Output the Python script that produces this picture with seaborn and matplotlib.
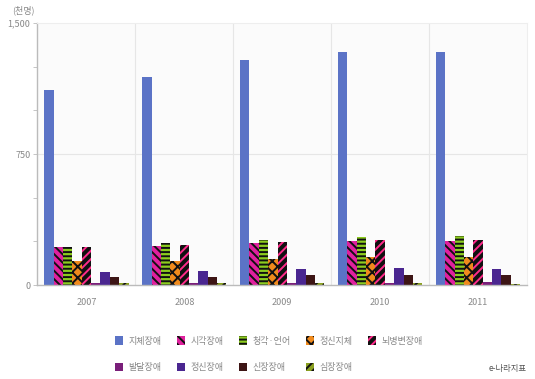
import numpy as np
import pandas as pd
import matplotlib
matplotlib.use("Agg")
import matplotlib.pyplot as plt
from matplotlib.patches import Patch
from matplotlib.ticker import FixedLocator
import seaborn as sns

years = ['2007', '2008', '2009', '2010', '2011']
categories = ['지체장애', '시각장애', '청각·언어', '정신지체', '뇌병변장애',
              '발달장애', '정신장애', '신장장애', '심장장애']
v_jichae = [1116, 1191, 1290, 1334, 1334]
v_sigak = [218, 225, 241, 250, 252]
v_cheonggak = [219, 240, 258, 275, 278]
v_jeongsinjiche = [138, 140, 150, 158, 161]
v_noebyeongbyeon = [220, 229, 246, 255, 258]
v_baldal = [12, 13, 14, 14, 15]
v_jeongsin = [76, 80, 92, 95, 94]
v_sinjang = [46, 48, 56, 58, 60]
v_simjang = [13, 12, 11, 9, 8]
y_ticks = [0, 750, 1500]
y_tick_labels = ['0', '750', '1,500']

series = [v_jichae, v_sigak, v_cheonggak, v_jeongsinjiche, v_noebyeongbyeon,
          v_baldal, v_jeongsin, v_sinjang, v_simjang]

rows = []
for cat, vals in zip(categories, series):
    for yr, v in zip(years, vals):
        rows.append({'year': yr, 'type': cat, 'value': v})
df = pd.DataFrame(rows)

sns.set_theme(style='white')
plt.rcParams['font.family'] = ['Noto Sans CJK KR', 'DejaVu Sans']
plt.rcParams['hatch.linewidth'] = 1.4

faces = ['#5b73c6', '#e0209e', '#8ccc1e', '#f08a1c', '#111111',
         '#7a1f7a', '#4a2690', '#3d1515', '#8aa020']
hatch_cols = [None, '#111111', '#111111', '#111111', '#ff2a8a',
              None, None, None, '#111111']
hatches = [None, '\\\\\\\\', '----', 'xxx', '////', None, None, None, '////']

fig = plt.figure(figsize=(5.35, 3.79), dpi=100)
ax = fig.add_axes([0.070, 0.248, 0.915, 0.691])
ax.set_facecolor('#fbfbfb')

sns.barplot(data=df, x='year', y='value', hue='type', hue_order=categories,
            order=years, palette=faces, width=0.86, saturation=1,
            legend=False, ax=ax, errorbar=None)

for i, cont in enumerate(ax.containers):
    for p in cont.patches:
        p.set_facecolor(faces[i])
        if hatches[i]:
            p.set_hatch(hatches[i])
            p.set_edgecolor(hatch_cols[i])
            p.set_linewidth(0)
        else:
            p.set_edgecolor('none')
            p.set_linewidth(0)

ax.set_ylim(0, 1500)
ax.set_xlim(-0.5, len(years) - 0.5)
ax.yaxis.set_major_locator(FixedLocator(y_ticks))
ax.set_yticklabels(y_tick_labels)
ax.yaxis.set_minor_locator(FixedLocator([250, 500, 1000, 1250]))
ax.tick_params(axis='y', which='both', left=True, length=3, width=0.6,
               color='#bbbbbb', labelsize=6.5, labelcolor='#888888', pad=2)
ax.tick_params(axis='x', bottom=False, labelsize=6.5, labelcolor='#888888', pad=3)
ax.set_xlabel('')
ax.set_ylabel('')

for xb in np.arange(0.5, len(years) - 0.5, 1):
    ax.axvline(xb, color='#e6e6e6', lw=0.8, zorder=0)
ax.axhline(750, color='#e6e6e6', lw=0.8, zorder=0)

for side in ['top', 'right']:
    ax.spines[side].set_color('#eeeeee')
    ax.spines[side].set_linewidth(0.8)
ax.spines['left'].set_color('#bbbbbb')
ax.spines['bottom'].set_color('#bbbbbb')
ax.spines['left'].set_linewidth(1.0)
ax.spines['bottom'].set_linewidth(1.0)

fig.text(0.022, 0.972, '(천명)', fontsize=6.5, color='#888888', va='center')

handles = []
for i, cat in enumerate(categories):
    if hatches[i]:
        h = Patch(facecolor=faces[i], edgecolor=hatch_cols[i], hatch=hatches[i],
                  linewidth=0, label=cat)
    else:
        h = Patch(facecolor=faces[i], edgecolor='none', label=cat)
    handles.append(h)
order = [0, 5, 1, 6, 2, 7, 3, 8, 4]
leg = fig.legend([handles[k] for k in order], [categories[k] for k in order],
                 ncol=5, loc='upper left', bbox_to_anchor=(0.215, 0.113),
                 frameon=False, fontsize=6.5, handlelength=0.9, handleheight=1.1,
                 handletextpad=0.6, columnspacing=1.7, labelspacing=1.9,
                 labelcolor='#888888', borderpad=0, borderaxespad=0)

fig.text(0.985, 0.015, 'e-나라지표', fontsize=6, color='#555555', ha='right',
         va='bottom')

fig.savefig('out.png', dpi=100)
